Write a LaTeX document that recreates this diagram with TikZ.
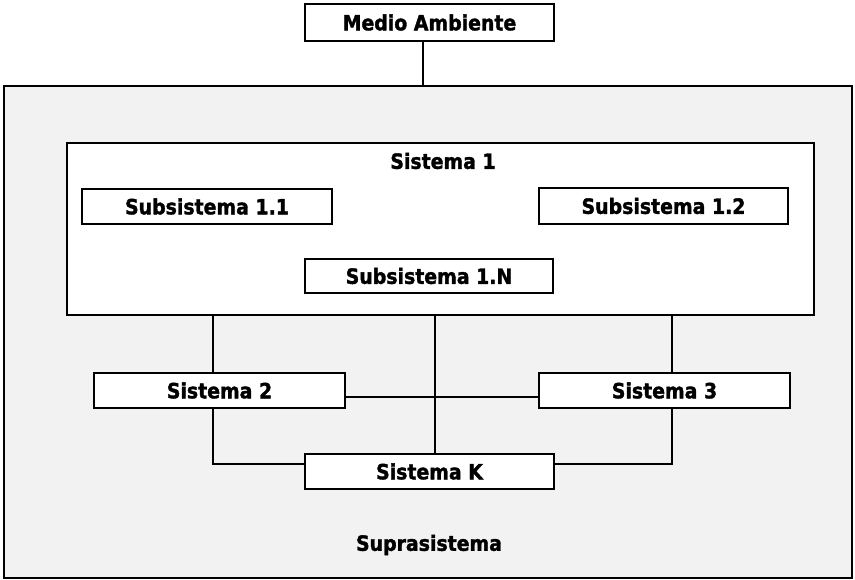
\documentclass[tikz,border=0pt]{standalone}
\usepackage{fontspec}
\setmainfont{DejaVu Sans Condensed}[BoldFeatures={FakeBold=1.6}]
\begin{document}
\begin{tikzpicture}[x=1pt,y=-1pt,
  lbl/.style={font=\fontsize{21}{23}\selectfont\bfseries, inner sep=0pt},
  box/.style={lbl, draw=black, line width=2.6pt, fill=white, rectangle},
  conn/.style={draw=black, line width=2.6pt}]
\useasboundingbox (0,0) rectangle (855,579);
% Suprasistema
\node[draw=black, line width=2.6pt, fill=black!5, rectangle, inner sep=0pt,
  minimum width=848pt, minimum height=492pt] (supra) at (428,332) {};
\node[lbl] (supral) at (429,545) {Suprasistema};
% Medio ambiente
\node[box, minimum width=249pt, minimum height=37pt] (medio) at (429.5,22.5) {Medio Ambiente};
% Sistema 1
\node[box, minimum width=747pt, minimum height=172pt] (sis1) at (440.5,229) {};
\node[lbl] (sis1l) at (443,161) {Sistema 1};
\node[box, minimum width=250pt, minimum height=35pt] (sub11) at (207,206.5) {Subsistema 1.1};
\node[box, minimum width=249pt, minimum height=36pt] (sub12) at (663.5,206) {Subsistema 1.2};
\node[box, minimum width=248pt, minimum height=34pt] (sub1n) at (429,276) {Subsistema 1.N};
% Sistemas 2, 3, K
\node[box, minimum width=251pt, minimum height=35pt] (sis2) at (219.5,390.5) {Sistema 2};
\node[box, minimum width=251pt, minimum height=35pt] (sis3) at (664.5,390.5) {Sistema 3};
\node[box, minimum width=249pt, minimum height=35pt] (sisk) at (429.5,471.5) {Sistema K};
% helper coordinates
\coordinate (xm) at (423,0);
\coordinate (xl) at (213,0);
\coordinate (xc) at (435,0);
\coordinate (xr) at (672,0);
\coordinate (yh) at (0,397);
\coordinate (yb) at (0,464);
\coordinate (bl) at (213,464);
\coordinate (br) at (672,464);
% connectors
\draw[conn] (medio.south -| xm) -- (supra.north -| xm);
\draw[conn] (sis1.south -| xl) -- (sis2.north -| xl);
\draw[conn] (sis1.south -| xc) -- (sisk.north -| xc);
\draw[conn] (sis1.south -| xr) -- (sis3.north -| xr);
\draw[conn] (sis2.east |- yh) -- (sis3.west |- yh);
\draw[conn] (sis2.south -| xl) -- (bl) -- (sisk.west |- yb);
\draw[conn] (sis3.south -| xr) -- (br) -- (sisk.east |- yb);
\end{tikzpicture}
\end{document}
